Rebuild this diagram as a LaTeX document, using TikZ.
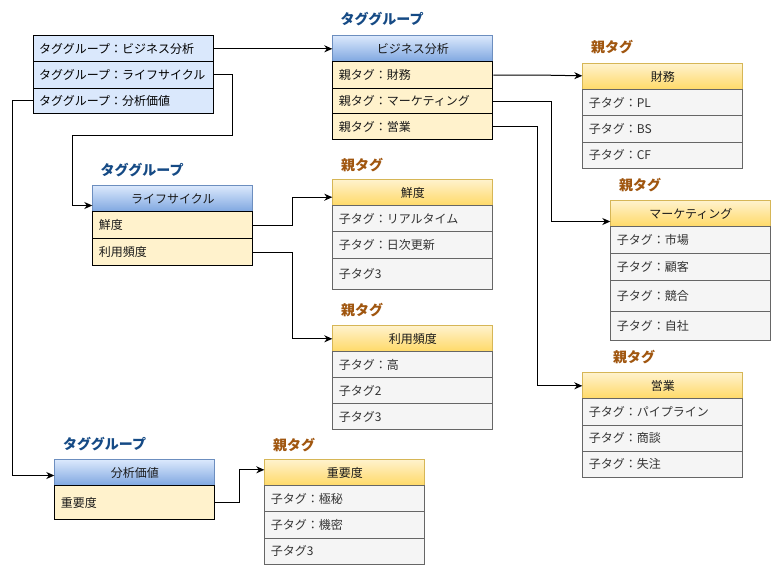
\documentclass[tikz,border=0pt]{standalone}
\usepackage{fontspec}
\setmainfont{Noto Sans CJK JP}
\usetikzlibrary{arrows.meta,calc}
\definecolor{cGrpFill}{HTML}{DAE8FC}
\definecolor{cGrpDark}{HTML}{7EA6E0}
\definecolor{cGrpLine}{HTML}{6C8EBF}
\definecolor{cParFill}{HTML}{FFF2CC}
\definecolor{cParDark}{HTML}{FFD966}
\definecolor{cParLine}{HTML}{D6B656}
\definecolor{cChFill}{HTML}{F5F5F5}
\definecolor{cChLine}{HTML}{666666}
\definecolor{cChText}{HTML}{333333}
\definecolor{cGrpTitle}{HTML}{154A85}
\definecolor{cParTitle}{HTML}{A0560F}
\tikzset{
  rowbase/.style={draw, rectangle, anchor=north west, inner xsep=6pt, inner ysep=0pt,
    line width=1pt, font=\fontsize{12pt}{14pt}\selectfont, text width=148pt,
    align=left, minimum height=26pt},
  grprow/.style={rowbase, fill=cGrpFill, draw=black, text=black},
  parrow/.style={rowbase, fill=cParFill, draw=black, text=black!90},
  chrow/.style={rowbase, fill=cChFill, draw=cChLine, text=cChText},
  headbase/.style={draw, rectangle, anchor=north west, inner sep=0pt, line width=1pt,
    minimum width=160pt, minimum height=26pt, font=\fontsize{12pt}{14pt}\selectfont, text=black!90},
  grphead/.style={headbase, top color=cGrpFill, bottom color=cGrpDark, draw=cGrpLine},
  parhead/.style={headbase, top color=cParFill, bottom color=cParDark, draw=cParLine},
  grpttl/.style={anchor=west, inner sep=0pt, font=\fontsize{14pt}{16pt}\selectfont\bfseries, text=cGrpTitle},
  parttl/.style={anchor=west, inner sep=0pt, font=\fontsize{14pt}{16pt}\selectfont\bfseries, text=cParTitle},
  conn/.style={draw=black, line width=1pt, -{Stealth[length=8pt,width=7pt,inset=2.5pt]}},
  connplain/.style={draw=black, line width=1pt}
}
\begin{document}
\begin{tikzpicture}[x=1pt,y=-1pt]
\useasboundingbox[fill=white] (0,0) rectangle (776,571);

% ---- top-left group list
\node[grprow, text width=168pt, minimum height=26pt] (g1a) at (32.5,35.3) {タググループ：ビジネス分析};
\node[grprow, text width=168pt, minimum height=26.3pt] (g1b) at (32.5,61.3) {タググループ：ライフサイクル};
\node[grprow, text width=168pt, minimum height=25.7pt] (g1c) at (32.5,87.6) {タググループ：分析価値};

% ---- Business analysis group
\node[grpttl] (t1) at (340.5,19.5) {タググループ};
\node[grphead] (bizh) at (332.3,35.3) {ビジネス分析};
\node[parrow, minimum height=26.4pt] (bizr1) at (332.3,61.3) {親タグ：財務};
\node[parrow, minimum height=25.6pt] (bizr2) at (332.3,87.7) {親タグ：マーケティング};
\node[parrow, minimum height=26pt] (bizr3) at (332.3,113.3) {親タグ：営業};

% ---- 財務
\node[parttl] (t2) at (591,47.5) {親タグ};
\node[parhead] (zaih) at (582.3,63.3) {財務};
\node[chrow, minimum height=26pt] (zair1) at (582.3,89.3) {子タグ：PL};
\node[chrow, minimum height=26.4pt] (zair2) at (582.3,115.3) {子タグ：BS};
\node[chrow, minimum height=26pt] (zair3) at (582.3,141.7) {子タグ：CF};

% ---- Lifecycle group
\node[grpttl] (t3) at (100.5,170) {タググループ};
\node[grphead] (lifh) at (92.3,185.3) {ライフサイクル};
\node[parrow, minimum height=26.4pt] (lifr1) at (92.3,211.3) {鮮度};
\node[parrow, minimum height=27.6pt] (lifr2) at (92.3,237.7) {利用頻度};

% ---- 鮮度
\node[parttl] (t4) at (341,165) {親タグ};
\node[parhead] (senh) at (332.3,179.3) {鮮度};
\node[chrow, minimum height=26pt] (senr1) at (332.3,205.3) {子タグ：リアルタイム};
\node[chrow, minimum height=26.4pt] (senr2) at (332.3,231.3) {子タグ：日次更新};
\node[chrow, minimum height=31.6pt] (senr3) at (332.3,257.7) {子タグ3};

% ---- マーケティング
\node[parttl] (t5) at (619,185) {親タグ};
\node[parhead] (mkth) at (610.3,200.3) {マーケティング};
\node[chrow, minimum height=26.4pt] (mktr1) at (610.3,226.3) {子タグ：市場};
\node[chrow, minimum height=27.6pt] (mktr2) at (610.3,252.7) {子タグ：顧客};
\node[chrow, minimum height=30.7pt] (mktr3) at (610.3,280.3) {子タグ：競合};
\node[chrow, minimum height=29.3pt] (mktr4) at (610.3,311) {子タグ：自社};

% ---- 利用頻度
\node[parttl] (t6) at (341,310) {親タグ};
\node[parhead] (riyh) at (332.3,325.3) {利用頻度};
\node[chrow, minimum height=26pt] (riyr1) at (332.3,351.3) {子タグ：高};
\node[chrow, minimum height=26pt] (riyr2) at (332.3,377.3) {子タグ2};
\node[chrow, minimum height=26pt] (riyr3) at (332.3,403.3) {子タグ3};

% ---- 営業
\node[parttl] (t7) at (613,357) {親タグ};
\node[parhead] (eigh) at (582.3,372.3) {営業};
\node[chrow, minimum height=26.4pt] (eigr1) at (582.3,398.3) {子タグ：パイプライン};
\node[chrow, minimum height=26pt] (eigr2) at (582.3,424.7) {子タグ：商談};
\node[chrow, minimum height=26pt] (eigr3) at (582.3,450.7) {子タグ：失注};

% ---- Analysis value group
\node[grpttl] (t8) at (63,444) {タググループ};
\node[grphead] (bunh) at (54.3,459.3) {分析価値};
\node[parrow, minimum height=33.7pt] (bunr1) at (54.3,485.3) {重要度};

% ---- 重要度
\node[parttl] (t9) at (273,445.5) {親タグ};
\node[parhead] (juyh) at (264.3,459.3) {重要度};
\node[chrow, minimum height=26pt] (juyr1) at (264.3,485.3) {子タグ：極秘};
\node[chrow, minimum height=26.4pt] (juyr2) at (264.3,511.3) {子タグ：機密};
\node[chrow, minimum height=26pt] (juyr3) at (264.3,537.7) {子タグ3};

% ---- routing coordinates
\coordinate (k2a) at (232.5,135.7);
\coordinate (k2b) at (72.3,135.7);
\coordinate (k3) at (12.3,0);
\coordinate (k4) at (537,0);
\coordinate (k5) at (551.3,0);
\coordinate (k6) at (537.3,0);
\coordinate (k7) at (292.3,0);
\coordinate (k9) at (239.3,0);

% ---- connectors
\draw[conn] (g1a.east) -- (bizh.west);
\draw[conn] (g1b.east) -| (k2a) -- (k2b) |- ([yshift=-6.7pt]lifh.west);
\draw[conn] (g1c.west) -- (g1c.west -| k3) |- ([yshift=-2.7pt]bunh.west);
\draw[conn] (bizr1.east) -- (bizr1.east -| k4) -- ([yshift=1pt]zaih.west);
\draw[conn] (bizr2.east) -- (bizr2.east -| k5) |- ([yshift=-7.7pt]mkth.west);
\draw[conn] (bizr3.east) -- (bizr3.east -| k6) |- (eigh.west);
\draw[conn] (lifr1.east) -- (lifr1.east -| k7) |- ([yshift=-4.4pt]senh.west);
\draw[conn] (lifr2.east) -- (lifr2.east -| k7) |- (riyh.west);
\draw[conn] (bunr1.east) -- (bunr1.east -| k9) |- ([yshift=3pt]juyh.west);
\end{tikzpicture}
\end{document}
